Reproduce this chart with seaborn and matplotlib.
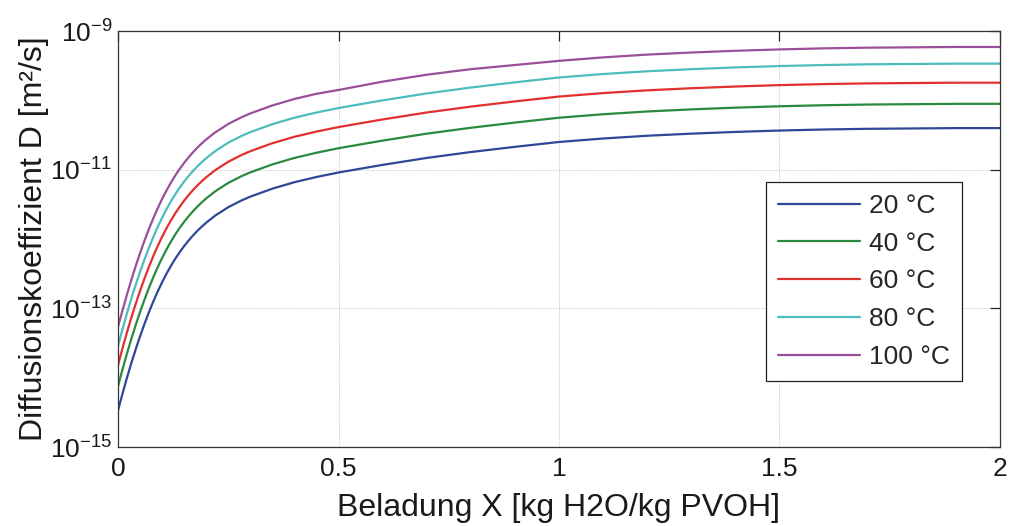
import numpy as np
import pandas as pd
import matplotlib
matplotlib.use("Agg")
import matplotlib.pyplot as plt
from matplotlib.ticker import FixedLocator, LogFormatterMathtext, NullLocator
import seaborn as sns

# Moisture load X [kg H2O / kg PVOH]
beladung = [0.00, 0.01, 0.02, 0.03, 0.04, 0.05, 0.06, 0.07, 0.08, 0.09,
            0.10, 0.11, 0.12, 0.13, 0.14, 0.15, 0.16, 0.17, 0.18, 0.19,
            0.20, 0.22, 0.25, 0.28, 0.30, 0.35, 0.40, 0.45, 0.50,
            0.60, 0.70, 0.80, 0.90, 1.00, 1.10, 1.20, 1.30, 1.40, 1.50,
            1.60, 1.70, 1.80, 1.90, 2.00]

# log10 of the diffusion coefficient D [m²/s] per temperature
log_d_20 = [-14.470, -14.231, -14.005, -13.791, -13.590, -13.400, -13.222, -13.055, -12.899, -12.755,
            -12.621, -12.498, -12.385, -12.281, -12.187, -12.100, -12.021, -11.948, -11.881, -11.820,
            -11.763, -11.663, -11.540, -11.443, -11.388, -11.273, -11.180, -11.105, -11.040,
            -10.930, -10.830, -10.745, -10.670, -10.600, -10.550, -10.510, -10.480, -10.455, -10.435,
            -10.420, -10.410, -10.405, -10.400, -10.400]
log_d_40 = [-14.120, -13.881, -13.655, -13.441, -13.240, -13.050, -12.872, -12.705, -12.549, -12.405,
            -12.271, -12.148, -12.035, -11.931, -11.837, -11.750, -11.671, -11.598, -11.531, -11.470,
            -11.413, -11.313, -11.190, -11.093, -11.038, -10.923, -10.830, -10.755, -10.690,
            -10.580, -10.480, -10.395, -10.320, -10.250, -10.200, -10.160, -10.130, -10.105, -10.085,
            -10.070, -10.060, -10.055, -10.050, -10.050]
log_d_60 = [-13.815, -13.576, -13.350, -13.136, -12.935, -12.745, -12.567, -12.400, -12.244, -12.100,
            -11.966, -11.843, -11.730, -11.626, -11.532, -11.445, -11.366, -11.293, -11.226, -11.165,
            -11.108, -11.008, -10.885, -10.788, -10.733, -10.618, -10.525, -10.450, -10.385,
            -10.275, -10.175, -10.090, -10.015, -9.945, -9.895, -9.855, -9.825, -9.800, -9.780,
            -9.765, -9.755, -9.750, -9.745, -9.745]
log_d_80 = [-13.540, -13.301, -13.075, -12.861, -12.660, -12.470, -12.292, -12.125, -11.969, -11.825,
            -11.691, -11.568, -11.455, -11.351, -11.257, -11.170, -11.091, -11.018, -10.951, -10.890,
            -10.833, -10.733, -10.610, -10.513, -10.458, -10.343, -10.250, -10.175, -10.110,
            -10.000, -9.900, -9.815, -9.740, -9.670, -9.620, -9.580, -9.550, -9.525, -9.505,
            -9.490, -9.480, -9.475, -9.470, -9.470]
log_d_100 = [-13.260, -13.031, -12.805, -12.591, -12.390, -12.200, -12.022, -11.855, -11.699, -11.555,
             -11.421, -11.298, -11.185, -11.081, -10.987, -10.900, -10.821, -10.748, -10.681, -10.620,
             -10.563, -10.463, -10.340, -10.243, -10.188, -10.073, -9.980, -9.905, -9.850,
             -9.730, -9.630, -9.550, -9.490, -9.430, -9.380, -9.340, -9.310, -9.285, -9.265,
             -9.250, -9.240, -9.235, -9.230, -9.230]

temperatures = ["20 °C", "40 °C", "60 °C", "80 °C", "100 °C"]
series = [log_d_20, log_d_40, log_d_60, log_d_80, log_d_100]
colors = ["#2f4796", "#2a8a3e", "#e2302e", "#4dbcbc", "#9a4f9a"]

x_ticks = [0, 0.5, 1, 1.5, 2]
y_ticks = [1e-15, 1e-13, 1e-11, 1e-9]

frames = []
for label, vals in zip(temperatures, series):
    frames.append(pd.DataFrame({
        "X": beladung,
        "D": np.power(10.0, np.asarray(vals)),
        "T": label,
    }))
df = pd.concat(frames, ignore_index=True)

sns.set_theme(style="white")
plt.rcParams["font.family"] = ["Liberation Sans", "DejaVu Sans"]
plt.rcParams["mathtext.fontset"] = "custom"
plt.rcParams["mathtext.rm"] = "Liberation Sans"
plt.rcParams["mathtext.it"] = "Liberation Sans:italic"

fig = plt.figure(figsize=(10.09, 5.26), dpi=100)
ax = fig.add_axes([0.117, 0.150, 0.874, 0.791])

sns.lineplot(data=df, x="X", y="D", hue="T", hue_order=temperatures,
             palette=colors, linewidth=1.6, ax=ax, legend=False)

ax.set_yscale("log")
ax.set_xlim(0, 2)
ax.set_ylim(1e-15, 1e-9)

ax.xaxis.set_major_locator(FixedLocator(x_ticks))
ax.set_xticklabels([f"{t:g}" for t in x_ticks])
ax.yaxis.set_major_locator(FixedLocator(y_ticks))
ax.yaxis.set_major_formatter(LogFormatterMathtext())
ax.yaxis.set_minor_locator(NullLocator())
ax.xaxis.set_minor_locator(NullLocator())

ax.tick_params(axis="both", which="major", direction="in", length=7, width=0.9,
               color="#222222", labelsize=19, top=True, right=True,
               labelcolor="#1a1a1a")
ax.tick_params(axis="x", pad=7)
ax.tick_params(axis="y", pad=4)

ax.grid(True, which="major", linestyle=(0, (1.5, 1.5)), linewidth=0.6, color="#c4c4c4")
for sp in ax.spines.values():
    sp.set_color("#333333")
    sp.set_linewidth(0.9)

ax.set_xlabel("Beladung X [kg H2O/kg PVOH]", fontsize=23, color="#1a1a1a", labelpad=9)
ax.set_ylabel("Diffusionskoeffizient D [m²/s]", fontsize=23, color="#1a1a1a", labelpad=1)

handles = [plt.Line2D([], [], color=c, linewidth=1.6) for c in colors]
leg = ax.legend(handles, temperatures, loc="upper right",
                bbox_to_anchor=(0.957, 0.637), borderaxespad=0,
                fontsize=19, handlelength=3.1, handletextpad=0.35,
                labelspacing=0.52, borderpad=0.45, fancybox=False,
                frameon=True, framealpha=1, edgecolor="#222222")
leg.get_frame().set_linewidth(0.9)

fig.savefig("out.png", dpi=100, facecolor="white")
